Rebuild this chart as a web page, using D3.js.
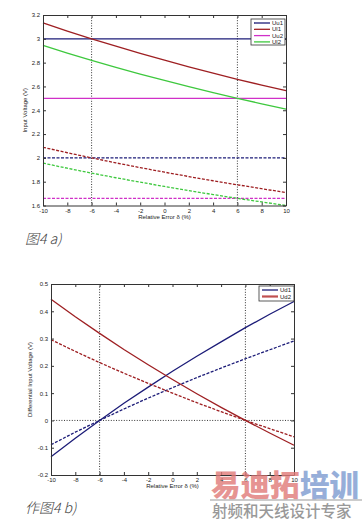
<!DOCTYPE html>
<html><head><meta charset="utf-8">
<script src="https://cdn.jsdelivr.net/npm/d3@7/dist/d3.min.js"></script>
<style>
body{margin:0;background:#fff;}
svg{display:block;font-family:Arial,"Liberation Sans",sans-serif;}
</style></head><body>
<svg id="c" width="363" height="521"></svg>
<script>
const delta = [-10,-8,-6,-4,-2,0,2,4,6,8,10];
// Chart a) input voltages
const Uu1 = [3,3,3,3,3,3,3,3,3,3,3];
const Ul1 = [3.133,3.065,3.0,2.938,2.878,2.82,2.765,2.712,2.66,2.611,2.564];
const Uu2 = [2.5,2.5,2.5,2.5,2.5,2.5,2.5,2.5,2.5,2.5,2.5];
const Ul2 = [2.944,2.88,2.819,2.76,2.704,2.65,2.598,2.548,2.5,2.454,2.409];
const Uu1d = [2,2,2,2,2,2,2,2,2,2,2];
const Ul1d = [2.089,2.043,2.0,1.958,1.918,1.88,1.843,1.808,1.774,1.741,1.709];
const Uu2d = [1.66,1.66,1.66,1.66,1.66,1.66,1.66,1.66,1.66,1.66,1.66];
const Ul2d = [1.956,1.913,1.872,1.833,1.796,1.76,1.725,1.692,1.66,1.63,1.6];
// Chart b) differential voltages
const Ud1 = [-0.133,-0.065,0,0.063,0.122,0.18,0.235,0.288,0.34,0.389,0.436];
const Ud1d = [-0.089,-0.043,0,0.042,0.082,0.12,0.157,0.192,0.226,0.259,0.291];
const Ud2 = [0.444,0.38,0.319,0.26,0.204,0.15,0.098,0.048,0,-0.046,-0.091];
const Ud2d = [0.296,0.253,0.212,0.173,0.136,0.1,0.065,0.032,0,-0.03,-0.06];
const xTicks = [-10,-8,-6,-4,-2,0,2,4,6,8,10];
const yTicksA = [1.6,1.8,2,2.2,2.4,2.6,2.8,3,3.2];
const yTicksB = [-0.2,-0.1,0,0.1,0.2,0.3,0.4,0.5];
const legendA = ["Uu1","Ul1","Uu2","Ul2"];
const legendB = ["Ud1","Ud2"];

const C = {navy:"#1c1c78", red:"#9e1f22", mag:"#d030c8", green:"#3ec83e"};
const svg = d3.select("#c");

function panel(o){
  const g = svg.append("g");
  const x = d3.scaleLinear().domain([-10,10]).range([o.x0,o.x1]);
  const y = d3.scaleLinear().domain(o.ydom).range([o.y1,o.y0]);
  [-6,6].forEach(v=>g.append("line").attr("x1",x(v)).attr("x2",x(v)).attr("y1",o.y0).attr("y2",o.y1)
     .attr("stroke","#000").attr("stroke-width",0.8).attr("stroke-dasharray","1,1.6"));
  if(o.zero) g.append("line").attr("x1",o.x0).attr("x2",o.x1).attr("y1",y(0)).attr("y2",y(0))
     .attr("stroke","#000").attr("stroke-width",0.8).attr("stroke-dasharray","1,1.6");
  const line = d3.line().x((d,i)=>x(delta[i])).y(d=>y(d));
  o.series.forEach(s=>{
    g.append("path").attr("d",line(s.v)).attr("fill","none").attr("stroke",s.c)
     .attr("stroke-width",1.3).attr("stroke-dasharray",s.dash?"3,1.5":null);
  });
  const fmt = d=>String(+d.toFixed(2));
  const ax = (gen,tr)=>{const a=g.append("g").attr("transform",tr).call(gen);
     a.selectAll("path").attr("stroke","#333"); a.selectAll("line").attr("stroke","#333");
     a.selectAll("text").attr("font-size",6).attr("fill","#222"); return a;};
  ax(d3.axisBottom(x).tickValues(xTicks).tickSize(-3).tickPadding(3).tickSizeOuter(0).tickFormat(fmt),`translate(0,${o.y1})`);
  ax(d3.axisTop(x).tickValues(xTicks).tickSize(-3).tickSizeOuter(0).tickFormat(""),`translate(0,${o.y0})`);
  ax(d3.axisLeft(y).tickValues(o.yt).tickSize(-3).tickPadding(3).tickSizeOuter(0).tickFormat(fmt),`translate(${o.x0},0)`);
  ax(d3.axisRight(y).tickValues(o.yt).tickSize(-3).tickSizeOuter(0).tickFormat(""),`translate(${o.x1},0)`);
  g.append("text").attr("x",(o.x0+o.x1)/2).attr("y",o.y1+13).attr("text-anchor","middle")
    .attr("font-size",6).attr("fill","#222").text("Relative Error \u03b4 (%)");
  g.append("text").attr("transform",`translate(${o.ylx},${(o.y0+o.y1)/2}) rotate(-90)`)
    .attr("text-anchor","middle").attr("font-size",6).attr("fill","#222").text(o.ylab);
  const L=o.leg;
  g.append("rect").attr("x",L.x).attr("y",L.y).attr("width",L.w).attr("height",L.h)
    .attr("fill","#fff").attr("stroke","#333").attr("stroke-width",0.8);
  L.items.forEach((it,i)=>{
    const yy=L.y+4+i*L.dy;
    g.append("line").attr("x1",L.x+3).attr("x2",L.x+19).attr("y1",yy).attr("y2",yy)
      .attr("stroke",it.c).attr("stroke-width",it.w||1.3);
    g.append("text").attr("x",L.x+21).attr("y",yy+2).attr("font-size",6).attr("fill","#222").text(it.t);
  });
  return {x,y};
}

panel({x0:43,x1:286,y0:15,y1:205.5,ydom:[1.6,3.2],yt:yTicksA,ylx:27,ylab:"Input Voltage (V)",
  series:[{v:Uu1,c:C.navy},{v:Ul1,c:C.red},{v:Uu2,c:C.mag},{v:Ul2,c:C.green},
          {v:Uu1d,c:C.navy,dash:1},{v:Ul1d,c:C.red,dash:1},{v:Uu2d,c:C.mag,dash:1},{v:Ul2d,c:C.green,dash:1}],
  leg:{x:251,y:19,w:34,h:26,dy:6.3,items:[{t:legendA[0],c:C.navy},{t:legendA[1],c:C.red},{t:legendA[2],c:C.mag},{t:legendA[3],c:C.green}]}});

panel({x0:51,x1:294,y0:284,y1:475,ydom:[-0.2,0.5],yt:yTicksB,ylx:32,zero:1,ylab:"Differential Input Voltage (V)",
  series:[{v:Ud1,c:C.navy},{v:Ud1d,c:C.navy,dash:1},{v:Ud2,c:C.red},{v:Ud2d,c:C.red,dash:1}],
  leg:{x:259,y:286,w:35,h:15,dy:6.5,items:[{t:legendB[0],c:C.navy},{t:legendB[1],c:"#c05050",w:2.2}]}});

svg.append("text").attr("x",25).attr("y",244).attr("font-size",14).attr("font-style","italic")
  .attr("fill","#444").attr("font-family","'Noto Sans CJK SC',sans-serif").attr("font-weight",300).text("图4 a)");
svg.append("text").attr("x",25).attr("y",513).attr("font-size",14).attr("font-style","italic")
  .attr("fill","#444").attr("font-family","'Noto Sans CJK SC',sans-serif").attr("font-weight",300).text("作图4 b)");

const wm = svg.append("g").attr("font-family","'Noto Sans CJK SC',sans-serif").attr("font-weight",900);
wm.append("text").attr("x",211).attr("y",496).attr("font-size",29.5).attr("fill","#e07a78").attr("opacity",0.8).text("易迪拓");
wm.append("text").attr("x",300).attr("y",496).attr("font-size",29.5).attr("fill","#7d9bd0").attr("opacity",0.8).text("培训");
svg.append("line").attr("x1",210).attr("x2",362).attr("y1",500).attr("y2",500).attr("stroke","#bbb").attr("stroke-width",1.5);
svg.append("text").attr("x",212).attr("y",517).attr("font-size",15.5).attr("fill","#999")
  .attr("font-family","'Noto Sans CJK SC',sans-serif").attr("font-weight",500).text("射频和天线设计专家");
</script></body></html>
